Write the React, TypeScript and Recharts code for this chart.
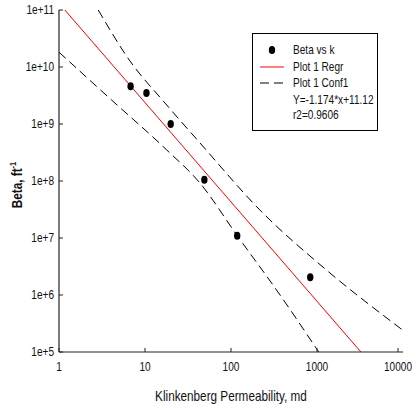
import React from 'react';
import { ComposedChart, Line, Scatter, XAxis, YAxis, Legend, Label } from 'recharts';

const FONT = '"Liberation Sans", Arial, sans-serif';
const AXIS = '#222';
const NARROW = 0.84; // the reference uses a condensed face

// decade ticks
const xTicks = [1, 10, 100, 1000, 10000];
const yTicks = [1e5, 1e6, 1e7, 1e8, 1e9, 1e10, 1e11];

// Beta vs k measurements
const betaK = [6.8, 10.4, 19.9, 49, 118, 834];
const betaVals = [4.6e9, 3.5e9, 1.0e9, 1.05e8, 1.1e7, 2.05e6];

// Plot 1 Regr, read at the frame edges
const regrK = [1.17, 3240];
const regrVals = [1e11, 1e5];

// Plot 1 Conf1, upper and lower bands
const upperK = [2.86, 6.7, 17.1, 43.6, 217, 1259, 10000];
const upperVals = [1e11, 1.27e10, 2.33e9, 4.65e8, 3.09e7, 2.82e6, 2.4e5];
const lowerK = [1, 4.09, 17.9, 43.6, 117, 372, 1047];
const lowerVals = [1.82e10, 2.63e9, 3.5e8, 9.2e7, 1.12e7, 1.0e6, 1e5];

const zip = (xs: number[], ys: number[]) => xs.map((x, i) => ({ x, y: ys[i] }));

const betaData = zip(betaK, betaVals);
const regrData = zip(regrK, regrVals);
const upperData = zip(upperK, upperVals);
const lowerData = zip(lowerK, lowerVals);

const fmtExp = (v: number) => `1e+${Math.round(Math.log10(v))}`;

// condensed text: scale glyphs horizontally around the anchor point
const NText = ({ x, y, size = 12, anchor = 'start', weight = 'normal', rotate = 0, children }: any) => (
  <g transform={`translate(${x} ${y}) rotate(${rotate}) scale(${NARROW} 1)`}>
    <text x={0} y={0} textAnchor={anchor} fontSize={size} fontWeight={weight} fontFamily={FONT} fill="#111">
      {children}
    </text>
  </g>
);

const BottomTick = (props: any) => {
  const { x, y, payload } = props;
  return (
    <g>
      <line x1={x} x2={x} y1={y} y2={y - 4} stroke={AXIS} strokeWidth={1} />
      <NText x={x} y={y + 19} anchor="middle">{payload.value}</NText>
    </g>
  );
};

const TopTick = (props: any) => {
  const { x, y } = props;
  return <line x1={x} x2={x} y1={y} y2={y + 4} stroke={AXIS} strokeWidth={1} />;
};

const LeftTick = (props: any) => {
  const { x, y, payload } = props;
  return (
    <g>
      <line x1={x} x2={x + 4} y1={y} y2={y} stroke={AXIS} strokeWidth={1} />
      <NText x={x - 5} y={y + 4} anchor="end">{fmtExp(payload.value)}</NText>
    </g>
  );
};

const Dot = (props: any) => {
  const { cx, cy } = props;
  return <ellipse cx={cx} cy={cy} rx={3.2} ry={4} fill="#000" />;
};

const XTitle = (props: any) => {
  const { viewBox } = props;
  return (
    <NText x={viewBox.x + viewBox.width / 2} y={401} size={14} anchor="middle">
      Klinkenberg Permeability, md
    </NText>
  );
};

const YTitle = (props: any) => {
  const { viewBox } = props;
  return (
    <NText x={22} y={viewBox.y + viewBox.height / 2 + 4} size={14} anchor="middle" weight="bold" rotate={-90}>
      Beta, ft
      <tspan fontSize={9} dy={-6}>-1</tspan>
    </NText>
  );
};

const LegendBox = () => (
  <svg width={126} height={98} style={{ display: 'block' }}>
    <rect x={0.5} y={0.5} width={125} height={97} fill="#fff" stroke="#000" strokeWidth={1} />
    <ellipse cx={20} cy={17} rx={3.2} ry={4} fill="#000" />
    <line x1={8} x2={32} y1={34} y2={34} stroke="#ff0000" strokeWidth={1} />
    <line x1={8} x2={32} y1={50} y2={50} stroke="#000" strokeWidth={1} strokeDasharray="9 5" />
    <NText x={41} y={21}>Beta vs k</NText>
    <NText x={41} y={38}>Plot 1 Regr</NText>
    <NText x={41} y={54}>Plot 1 Conf1</NText>
    <NText x={41} y={71}>Y=-1.174*x+11.12</NText>
    <NText x={41} y={86}>r2=0.9606</NText>
  </svg>
);

export default function App() {
  return (
    <div style={{ position: 'absolute', left: 0, top: 0, width: 418, height: 408, background: '#fff' }}>
      <ComposedChart width={418} height={408} margin={{ top: 10, right: 15, bottom: 0, left: 0 }}>
        <XAxis
          dataKey="x"
          type="number"
          scale="log"
          domain={[1, 10000]}
          ticks={xTicks}
          allowDataOverflow
          height={56}
          tickSize={0}
          tickMargin={0}
          tickLine={false}
          tick={<BottomTick />}
          axisLine={{ stroke: AXIS, strokeWidth: 1.2 }}
        >
          <Label content={<XTitle />} />
        </XAxis>
        <XAxis
          xAxisId="top"
          orientation="top"
          dataKey="x"
          type="number"
          scale="log"
          domain={[1, 10000]}
          ticks={xTicks}
          allowDataOverflow
          height={0}
          tickSize={0}
          tickMargin={0}
          tickLine={false}
          tick={<TopTick />}
          axisLine={{ stroke: AXIS, strokeWidth: 1.2 }}
        />
        <YAxis
          type="number"
          scale="log"
          domain={[1e5, 1e11]}
          ticks={yTicks}
          allowDataOverflow
          width={59}
          tickSize={0}
          tickMargin={0}
          tickLine={false}
          tick={<LeftTick />}
          axisLine={{ stroke: AXIS, strokeWidth: 1.2 }}
        >
          <Label content={<YTitle />} />
        </YAxis>
        <YAxis
          yAxisId="right"
          orientation="right"
          type="number"
          scale="log"
          domain={[1e5, 1e11]}
          ticks={yTicks}
          allowDataOverflow
          width={0}
          tick={false}
          tickLine={false}
          axisLine={{ stroke: AXIS, strokeWidth: 1.2 }}
        />
        <Legend
          layout="vertical"
          align="center"
          verticalAlign="middle"
          content={<LegendBox />}
          wrapperStyle={{ left: 252, top: 33, width: 126, height: 98 }}
        />
        <Line
          data={upperData}
          dataKey="y"
          type="monotone"
          stroke="#000"
          strokeWidth={1}
          strokeDasharray="9 5"
          dot={false}
          activeDot={false}
          isAnimationActive={false}
        />
        <Line
          data={lowerData}
          dataKey="y"
          type="monotone"
          stroke="#000"
          strokeWidth={1}
          strokeDasharray="9 5"
          dot={false}
          activeDot={false}
          isAnimationActive={false}
        />
        <Line
          data={regrData}
          dataKey="y"
          type="linear"
          stroke="#ff0000"
          strokeWidth={1}
          dot={false}
          activeDot={false}
          isAnimationActive={false}
        />
        <Scatter data={betaData} dataKey="y" shape={<Dot />} isAnimationActive={false} />
      </ComposedChart>
    </div>
  );
}
